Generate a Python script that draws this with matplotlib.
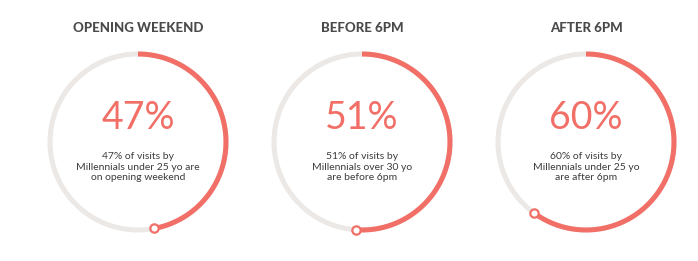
import matplotlib
matplotlib.use("Agg")
import matplotlib.pyplot as plt
import numpy as np

# data
titles = ["OPENING WEEKEND", "BEFORE 6PM", "AFTER 6PM"]
percents = [47, 51, 60]
captions = [
    "47% of visits by\nMillennials under 25 yo are\non opening weekend",
    "51% of visits by\nMillennials over 30 yo\nare before 6pm",
    "60% of visits by\nMillennials under 25 yo\nare after 6pm",
]

RED = "#f16f66"
TRACK = "#ebe8e5"
TITLE = "#4a4a4a"
TXT = "#3c3c3c"

W, H = 698, 261
fig = plt.figure(figsize=(W / 100, H / 100), dpi=100)
ax = fig.add_axes([0, 0, 1, 1])
ax.set_xlim(0, W)
ax.set_ylim(H, 0)
ax.axis("off")

centers_x = [138, 362, 586]
cy = 142
r = 88

for cx, title, pct, cap in zip(centers_x, titles, percents, captions):
    t = np.linspace(0, 2 * np.pi, 400)
    ax.plot(cx + r * np.sin(t), cy - r * np.cos(t), color=TRACK, lw=3.6,
            solid_capstyle="butt", zorder=1)
    ta = np.linspace(0, pct / 100 * 2 * np.pi, 300)
    ax.plot(cx + r * np.sin(ta), cy - r * np.cos(ta), color=RED, lw=3.6,
            solid_capstyle="butt", zorder=2)
    ax.plot(cx + r * np.sin(ta[-1]), cy - r * np.cos(ta[-1]), "o", ms=6,
            mfc="white", mec=RED, mew=1.6, zorder=3)

    ax.text(cx, 28, title, ha="center", va="center", fontsize=9.5,
            family="Lato", weight="black", color=TITLE)
    ax.text(cx, 118, f"{pct}%", ha="center", va="center", fontsize=27,
            family="Lato", weight="normal", color=RED)
    ax.text(cx, 167, cap, ha="center", va="center", fontsize=7.5,
            family="Lato", color=TXT, linespacing=1.25)

fig.savefig("out.png", dpi=100, facecolor="white")
